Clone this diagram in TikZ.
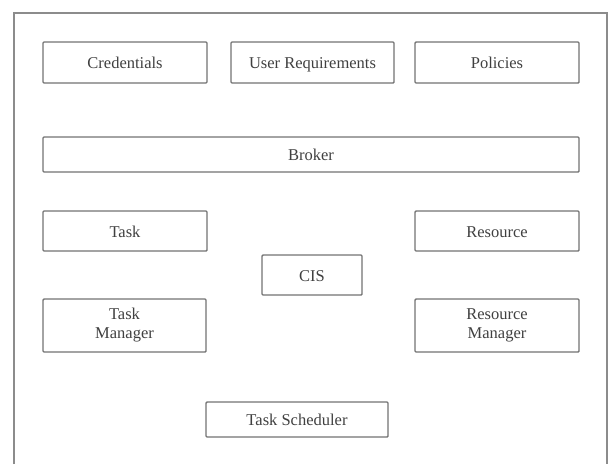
\documentclass[tikz,border=0pt]{standalone}
\usepackage{fontspec}
\setmainfont{Liberation Serif}
\begin{document}
\begin{tikzpicture}[x=1pt,y=-1pt,
  box/.style={draw=black!55,line width=1.4pt,rounded corners=1pt,fill=white},
  lbl/.style={font=\fontsize{16.5}{19}\selectfont,text=black!75,align=center,inner sep=0pt},
  oneline/.style={text height=14pt,text depth=2pt}]
\useasboundingbox (0,0) rectangle (609,464);
% outer frame (open at the bottom edge of the page)
\draw[draw=black!45,line width=1.6pt] (14,464) -- (14,13) -- (607,13) -- (607,464);
% boxes given as corner pairs; #5 = node name, #6 = extra label options, #7 = text
\newcommand{\blockbox}[7]{%
  \draw[box] (#1,#2) rectangle (#3,#4);
  \node[lbl,#6] (#5) at ({(#1+#3)/2},{(#2+#4)/2}) {#7};}
\blockbox{43}{42}{207}{83}{cred}{oneline}{Credentials}
\blockbox{231}{42}{394}{83}{ureq}{oneline}{User Requirements}
\blockbox{415}{42}{579}{83}{pol}{oneline}{Policies}
\blockbox{43}{137}{579}{172}{brk}{oneline}{Broker}
\blockbox{43}{211}{207}{251}{task}{oneline}{Task}
\blockbox{415}{211}{579}{251}{res}{oneline}{Resource}
\blockbox{262}{255}{362}{295}{cis}{oneline}{CIS}
\blockbox{43}{299}{206}{352}{tman}{}{Task\\Manager}
\blockbox{415}{299}{579}{352}{rman}{}{Resource\\Manager}
\blockbox{206}{402}{388}{437}{tsch}{oneline}{Task Scheduler}
\end{tikzpicture}
\end{document}
